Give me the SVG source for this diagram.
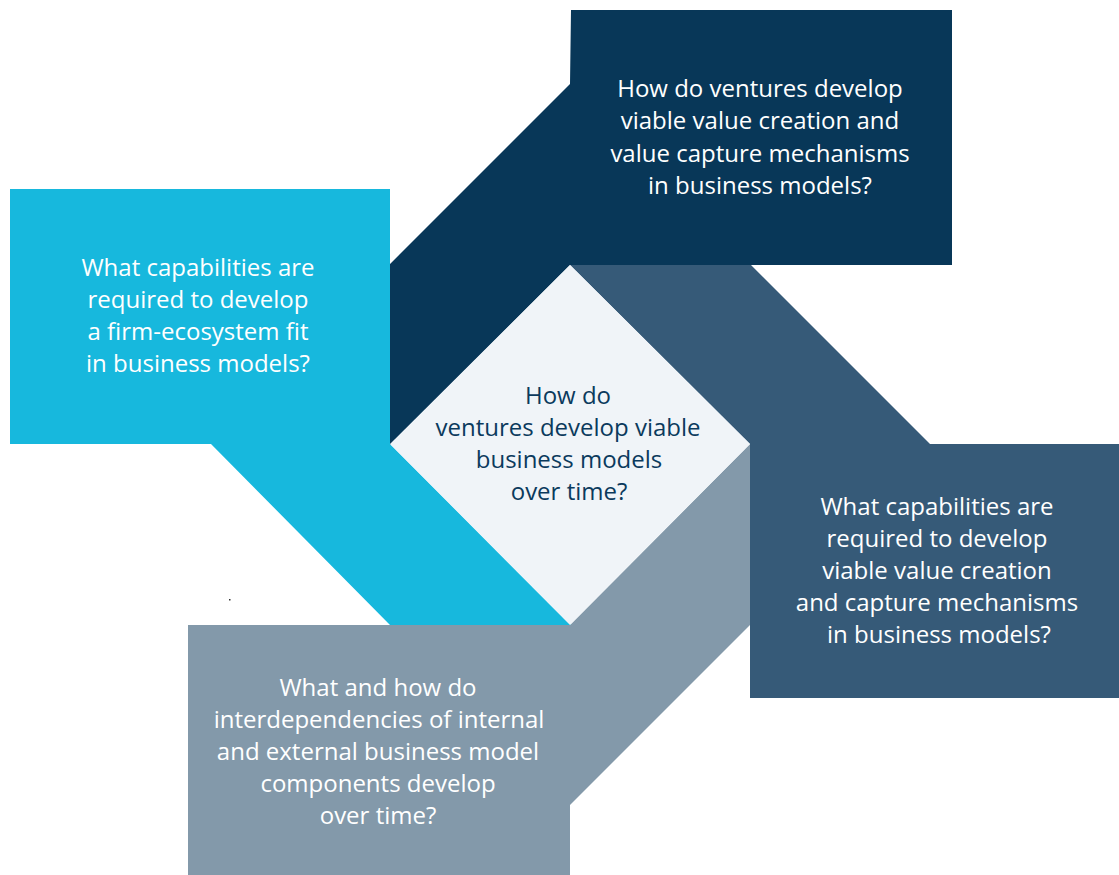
<svg xmlns="http://www.w3.org/2000/svg" width="1119" height="875" viewBox="0 0 1119 875">
  <style>
    .lbl { font-family: "Open Sans", "Liberation Sans", sans-serif; font-size: 24px; text-anchor: middle; fill: #ffffff; }
    .center { fill: #0b3a5d; }
  </style>
  <rect width="1119" height="875" fill="#ffffff"/>
  <g id="node-value-mechanisms">
    <polygon points="571,10 952,10 952,265 570,265 390,445 390,264 570,84" fill="#083758"/>
    <text class="lbl" x="760" y="97">How do ventures develop</text>
    <text class="lbl" x="760" y="129">viable value creation and</text>
    <text class="lbl" x="760" y="162">value capture mechanisms</text>
    <text class="lbl" x="760" y="194">in business models?</text>
  </g>
  <g id="node-capabilities-value">
    <polygon points="570,265 751,265 930,444 1119,444 1119,698 750,698 750,444" fill="#365a78"/>
    <text class="lbl" x="937" y="515">What capabilities are</text>
    <text class="lbl" x="937" y="547">required to develop</text>
    <text class="lbl" x="937" y="579">viable value creation</text>
    <text class="lbl" x="937" y="611">and capture mechanisms</text>
    <text class="lbl" x="939" y="643">in business models?</text>
  </g>
  <g id="node-interdependencies">
    <polygon points="188,625 570,625 750,444 750,625 570,805 570,875 188,875" fill="#8399aa"/>
    <text class="lbl" x="378" y="696">What and how do</text>
    <text class="lbl" x="379" y="728">interdependencies of internal</text>
    <text class="lbl" x="378" y="760">and external business model</text>
    <text class="lbl" x="378" y="792">components develop</text>
    <text class="lbl" x="378" y="824">over time?</text>
  </g>
  <g id="node-ecosystem-fit">
    <polygon points="10,189 390,189 390,444 571,625 390,625 211,444 10,444" fill="#17b8dd"/>
    <text class="lbl" x="198" y="276">What capabilities are</text>
    <text class="lbl" x="198" y="308">required to develop</text>
    <text class="lbl" x="198" y="340">a firm-ecosystem fit</text>
    <text class="lbl" x="198" y="372">in business models?</text>
  </g>
  <g id="node-center">
    <polygon points="570,265 750,444 570,625 390,444" fill="#f0f4f8"/>
    <text class="lbl center" x="568" y="404">How do</text>
    <text class="lbl center" x="568" y="436">ventures develop viable</text>
    <text class="lbl center" x="569" y="468">business models</text>
    <text class="lbl center" x="569" y="500">over time?</text>
  </g>
  <g id="connectors"></g>
  <rect x="229" y="599" width="1.5" height="1.5" fill="#333333"/>
</svg>
